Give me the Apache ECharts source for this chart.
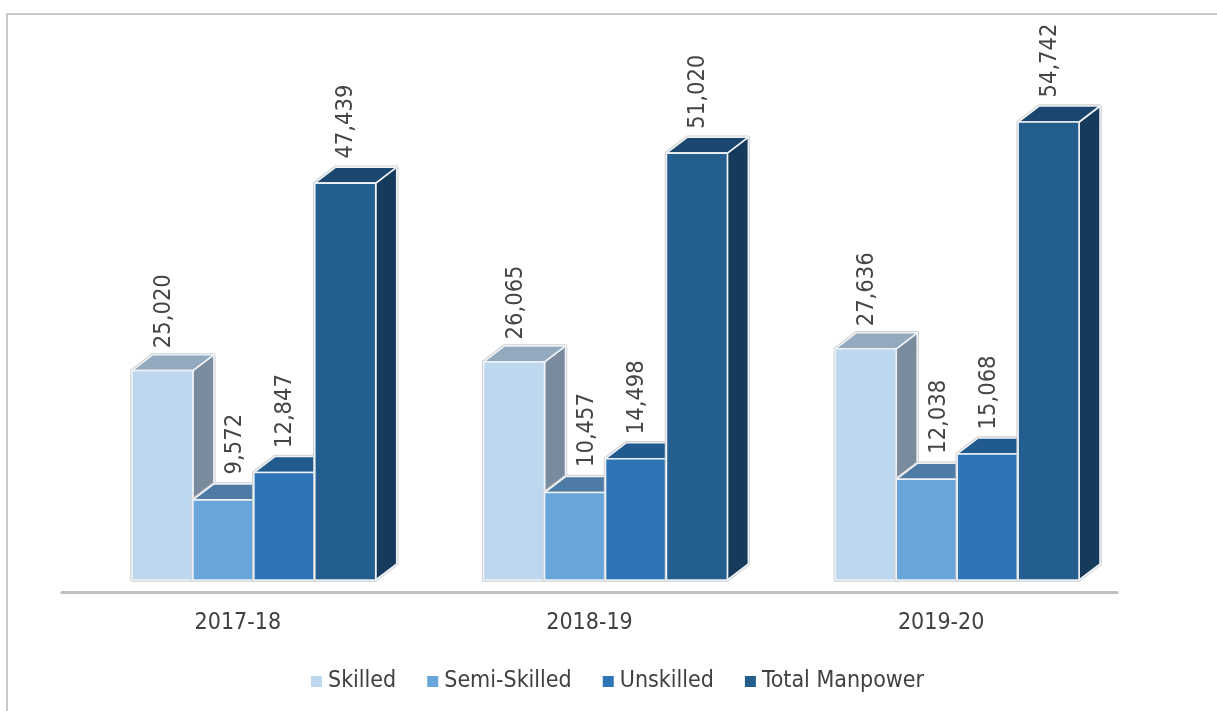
<!DOCTYPE html>
<html>
<head>
<meta charset="utf-8">
<script src="https://cdn.jsdelivr.net/npm/echarts@6/dist/echarts.min.js"></script>
<style>html,body{margin:0;padding:0;background:#fff}#c{width:1217px;height:711px}</style>
</head>
<body>
<div id="c"></div>
<script>
const categories = ['2017-18', '2018-19', '2019-20'];
const skilled = [25020, 26065, 27636];
const semiSkilled = [9572, 10457, 12038];
const unskilled = [12847, 14498, 15068];
const totalManpower = [47439, 51020, 54742];

const FONT = '"DejaVu Sans Condensed", "DejaVu Sans", sans-serif';
const palette = [
  { name: 'Skilled', values: skilled, front: '#BDD7EE', top: '#93A9BE', side: '#7A8B9D', labelDx: 1.5, labelDy: 0 },
  { name: 'Semi-Skilled', values: semiSkilled, front: '#68A5DA', top: '#4E7BA6', side: '#3F6488', labelDx: 12, labelDy: -3 },
  { name: 'Unskilled', values: unskilled, front: '#2E75B7', top: '#215A8E', side: '#1B4A75', labelDx: 1, labelDy: -2 },
  { name: 'Total Manpower', values: totalManpower, front: '#245E8F', top: '#1B466D', side: '#153A5C', labelDx: 1, labelDy: -2 }
];

function renderer(index, p) {
  return function (params, api) {
    const pt = api.coord([api.value(0), api.value(1)]);
    const base = api.coord([api.value(0), 0]);
    const band = api.size([1, 0])[0];
    const w = band * 0.1733;
    const lift = 12, dx = 21, dy = 16;
    const x0 = pt[0] + band * 0.0455 - 2 * w + index * w;
    const x1 = x0 + w;
    const yT = pt[1] - lift;
    const yB = base[1] - lift;
    const edge = { stroke: '#EEF2F6', lineWidth: 1.6, lineJoin: 'round' };
    const val = api.value(1).toLocaleString('en-US');
    return {
      type: 'group',
      children: [
        { type: 'polygon', shape: { points: [[x0, yB], [x0, yT], [x0 + dx, yT - dy], [x1 + dx, yT - dy], [x1 + dx, yB - dy], [x1, yB]] },
          style: { fill: 'none', stroke: '#CFCFCF', lineWidth: 3.4, lineJoin: 'round' } },
        { type: 'polygon', shape: { points: [[x1, yT], [x1 + dx, yT - dy], [x1 + dx, yB - dy], [x1, yB]] },
          style: Object.assign({ fill: p.side }, edge) },
        { type: 'polygon', shape: { points: [[x0, yT], [x0 + dx, yT - dy], [x1 + dx, yT - dy], [x1, yT]] },
          style: Object.assign({ fill: p.top }, edge) },
        { type: 'rect', shape: { x: x0, y: yT, width: w, height: yB - yT },
          style: Object.assign({ fill: p.front }, edge) },
        { type: 'text', x: x0 + w / 2 + p.labelDx, y: yT - 22.5 + p.labelDy, rotation: Math.PI / 2, z2: 100,
          style: { text: val, fill: '#454545', font: '23.5px ' + FONT, align: 'left', verticalAlign: 'middle' } }
      ]
    };
  };
}

const chart = echarts.init(document.getElementById('c'), null, { renderer: 'canvas' });
chart.setOption({
  animation: false,
  backgroundColor: '#ffffff',
  textStyle: { fontFamily: FONT },
  grid: { left: 62, right: 100, top: 90, height: 502, containLabel: false },
  graphic: [
    { type: 'polyline', silent: true, shape: { points: [[7, 711], [7, 14], [1217, 14]] },
      style: { fill: 'none', stroke: '#C9C9C9', lineWidth: 2 } }
  ],
  legend: {
    left: 306, top: 665, itemWidth: 11, itemHeight: 11, itemGap: 31,
    icon: 'rect',
    textStyle: { fontFamily: FONT, fontSize: 23, color: '#404040', padding: [0, 0, 0, 1] },
    data: palette.map(p => p.name)
  },
  xAxis: {
    type: 'category', data: categories,
    axisLine: { show: true, lineStyle: { color: '#BFBFBF', width: 3 } },
    axisTick: { show: false },
    axisLabel: { color: '#404040', fontSize: 23, fontFamily: FONT, margin: 20 }
  },
  yAxis: { type: 'value', min: 0, max: 60000, interval: 10000, show: false, splitLine: { show: false } },
  series: palette.map((p, i) => ({
    type: 'custom',
    name: p.name,
    coordinateSystem: 'cartesian2d',
    clip: false,
    itemStyle: { color: p.front },
    encode: { x: 0, y: 1 },
    renderItem: renderer(i, p),
    data: p.values.map((v, k) => [k, v])
  }))
});
</script>
</body>
</html>
